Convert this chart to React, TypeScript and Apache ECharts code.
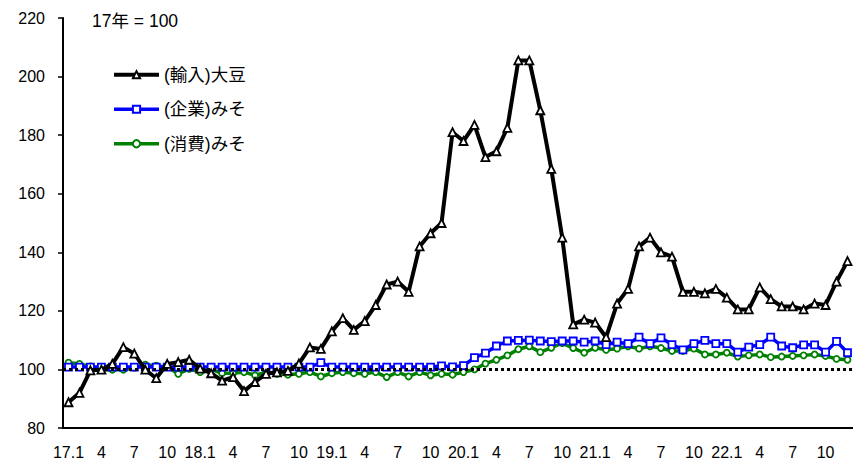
import React, { useEffect, useRef } from "react";
import * as echarts from "echarts";

const years = [17, 18, 19, 20, 21, 22];
const months = [1, 2, 3, 4, 5, 6, 7, 8, 9, 10, 11, 12];

const soybeanImport = [
  88.8, 92, 99.7, 99.9, 101.9, 107.6, 105.4, 99.9, 97, 101.9, 102.5, 103.3,
  100.3, 98.7, 96.2, 97.4, 92.6, 95.7, 98.5, 99, 99.5, 102, 107.5, 107,
  113, 117.5, 113.5, 116.5, 122, 129, 130, 126.5, 142, 146.5, 150, 181,
  178, 183.5, 172.5, 174.5, 182.5, 205.5, 205.5, 188.5, 168.5, 145, 115.4, 117,
  116, 111, 122.5, 127.5, 142, 145, 140, 138.5, 126.5, 126.5, 126, 127.5,
  124.5, 120.5, 120.5, 128, 124, 121.5, 121.5, 120.5, 122.5, 122, 130, 137,
];

const misoCorporate = [
  100.8, 100.8, 100.8, 100.8, 100.8, 100.8, 100.8, 100.8, 100.8, 100.8, 100.8, 100.8,
  100.8, 100.8, 100.8, 100.8, 100.8, 100.8, 100.8, 100.8, 100.8, 100.8, 100.8, 102.3,
  100.8, 100.8, 100.8, 100.8, 100.8, 100.8, 100.8, 100.8, 100.8, 100.8, 101.2, 100.9,
  101.3, 104, 105.6, 108, 109.7, 109.9, 110, 109.7, 109.5, 109.7, 109.7, 109.3,
  109.7, 108.5, 109.3, 108.8, 111, 108.8, 110.8, 108.5, 106.7, 108.8, 109.9, 108.8,
  108.8, 105.9, 107.6, 108.5, 111, 108, 107.4, 108.4, 108.4, 105.9, 109.6, 105.7,
];

const misoConsumer = [
  102.3, 101.9, 101, 99.8, 99.9, 99.9, 100.6, 101.6, 101.3, 100.8, 98.5, 100.2,
  99.1, 100, 98.7, 98.7, 99.1, 98, 99, 98.5, 98.2, 98.5, 99.1, 97.6,
  98.7, 99.1, 98.7, 98.5, 99.1, 97.4, 99.1, 97.6, 99.1, 98, 98.5, 98.2,
  99.1, 100, 102, 103.3, 104.8, 106.9, 107.9, 105.9, 107.4, 109, 107.3, 105.7,
  107.4, 106.7, 107.1, 107.9, 107.1, 107.9, 107.3, 106.3, 106.3, 107.1, 105.1, 105.1,
  105.7, 104.4, 104.8, 105.1, 104.2, 104.4, 104.6, 104.8, 105.1, 104.6, 103.6, 103.3,
];

const seriesNames = ["(輸入)大豆", "(企業)みそ", "(消費)みそ"];
const baseNote = "17年 = 100";
const baseValue = 100;

const categories: string[] = [];
years.forEach((y) => months.forEach((m) => categories.push(y + "." + m)));

const FONT = "'Liberation Sans', Arial, 'Noto Sans CJK JP', sans-serif";

export default function App() {
  const ref = useRef<HTMLDivElement>(null);
  useEffect(() => {
    if (!ref.current) return;
    const chart = echarts.init(ref.current, null, { renderer: "svg" });
    chart.setOption({
      animation: false,
      backgroundColor: "#fff",
      textStyle: { fontFamily: FONT },
      grid: { left: 63, right: 0, top: 18, bottom: 36 },
      legend: {
        orient: "vertical",
        left: 112,
        top: 66,
        padding: 0,
        itemWidth: 45,
        itemHeight: 9,
        itemGap: 17,
        lineStyle: { width: "inherit" },
        data: seriesNames,
        textStyle: { fontSize: 17.5, color: "#000", fontFamily: FONT, padding: [0, 0, 0, 0] },
      },
      graphic: [
        {
          type: "text",
          left: 92,
          top: 12,
          style: { text: baseNote, fontSize: 17.5, fill: "#000", fontFamily: FONT },
        },
      ],
      xAxis: {
        type: "category",
        data: categories,
        boundaryGap: true,
        axisLine: { lineStyle: { color: "#000", width: 2 } },
        axisTick: { inside: true, length: 5, interval: 0, lineStyle: { color: "#000", width: 1.5 } },
        axisLabel: {
          interval: 2,
          fontSize: 16,
          color: "#000",
          margin: 16,
          fontFamily: FONT,
          formatter: (v: string) => {
            const [y, m] = v.split(".");
            return m === "1" ? y + ".1" : m;
          },
        },
        splitLine: { show: false },
      },
      yAxis: {
        type: "value",
        min: 80,
        max: 220,
        interval: 20,
        axisLine: { show: true, lineStyle: { color: "#000", width: 2 } },
        axisTick: { show: true, length: 5, lineStyle: { color: "#000", width: 1.5 } },
        axisLabel: { fontSize: 16, color: "#000", margin: 18, fontFamily: FONT },
        splitLine: { show: false },
      },
      series: [
        {
          name: seriesNames[2],
          type: "line",
          data: misoConsumer,
          z: 3,
          showAllSymbol: true,
          symbol: "circle",
          symbolSize: 6,
          lineStyle: { color: "#008000", width: 3.5 },
          itemStyle: { color: "#fff", borderColor: "#008000", borderWidth: 1.8 },
          markLine: {
            silent: true,
            symbol: "none",
            label: { show: false },
            lineStyle: { color: "#000", width: 3, type: [3, 3] },
            data: [{ yAxis: baseValue }],
          },
        },
        {
          name: seriesNames[1],
          type: "line",
          data: misoCorporate,
          z: 4,
          showAllSymbol: true,
          symbol: "rect",
          symbolSize: 7,
          lineStyle: { color: "#0000ff", width: 3.5 },
          itemStyle: { color: "#fff", borderColor: "#0000ff", borderWidth: 1.8 },
        },
        {
          name: seriesNames[0],
          type: "line",
          data: soybeanImport,
          z: 5,
          showAllSymbol: true,
          symbol: "triangle",
          symbolSize: 8,
          lineStyle: { color: "#000", width: 4 },
          itemStyle: { color: "#fff", borderColor: "#000", borderWidth: 1.8 },
        },
      ],
    });
    return () => chart.dispose();
  }, []);
  return (
    <div
      ref={ref}
      style={{ position: "fixed", left: 0, top: 0, width: 853, height: 464 }}
    />
  );
}
